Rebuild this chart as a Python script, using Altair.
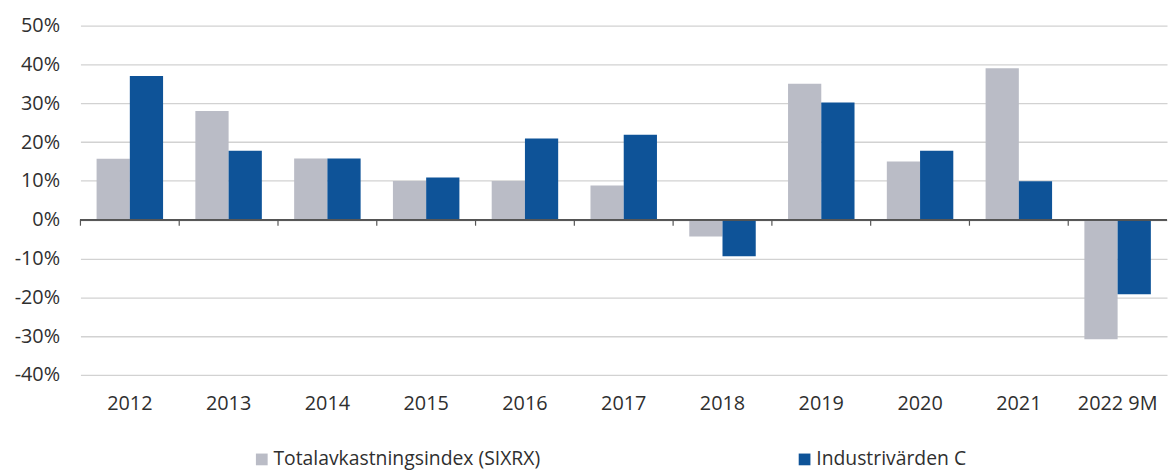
import altair as alt
import pandas as pd

categories = ["2012", "2013", "2014", "2015", "2016", "2017", "2018", "2019", "2020", "2021", "2022 9M"]
sixrx = [15.7, 28.0, 15.8, 10.0, 10.0, 8.8, -4.3, 35.0, 15.0, 39.0, -30.8]
industrivarden = [37.0, 17.8, 15.8, 10.9, 20.9, 21.9, -9.4, 30.2, 17.8, 9.9, -19.2]
series_names = ["Totalavkastningsindex (SIXRX)", "Industrivärden C"]
series_colors = ["#BABCC6", "#0E5398"]
y_ticks = [-40, -30, -20, -10, 0, 10, 20, 30, 40, 50]

rows = []
for c, a, b in zip(categories, sixrx, industrivarden):
    rows.append({"cat": c, "series": series_names[0], "value": a})
    rows.append({"cat": c, "series": series_names[1], "value": b})
df = pd.DataFrame(rows)
cat_df = pd.DataFrame({"cat": categories})

FONT = "Open Sans"
TEXT = "#2f2f2f"

yscale = alt.Scale(domain=[-40, 50], nice=False)

bars = alt.Chart(df).mark_bar().encode(
    x=alt.X(
        "cat:N",
        sort=categories,
        scale=alt.Scale(paddingInner=0.327, paddingOuter=0.1635),
        axis=alt.Axis(
            title=None, domain=False, ticks=False, labelAngle=0,
            labelFontSize=20, labelFont=FONT, labelColor=TEXT, labelPadding=19,
        ),
    ),
    xOffset=alt.XOffset("series:N", sort=series_names, scale=alt.Scale(paddingInner=0, paddingOuter=0)),
    y=alt.Y(
        "value:Q",
        scale=yscale,
        axis=alt.Axis(
            title=None, values=y_ticks, labelExpr="datum.value + '%'",
            domain=False, ticks=False, grid=True, gridColor="#D2D2D2", gridWidth=1.3,
            labelFontSize=20, labelFont=FONT, labelColor=TEXT, labelPadding=21,
            labelOverlap=False, minExtent=73, maxExtent=73,
        ),
    ),
    color=alt.Color(
        "series:N",
        sort=series_names,
        scale=alt.Scale(domain=series_names, range=series_colors),
        legend=alt.Legend(
            title=None, orient="none", direction="horizontal",
            legendX=173, legendY=427,
            symbolType="square", symbolSize=140, symbolStrokeWidth=0, symbolOpacity=1,
            labelFontSize=19.5, labelFont=FONT, labelColor=TEXT, labelOffset=2,
            labelLimit=600, columnPadding=256,
        ),
    ),
)

zero = alt.Chart(cat_df).mark_rule(color="#555555", strokeWidth=1.2).encode(
    y=alt.YDatum(0, axis=None)
)

ticks = alt.Chart(cat_df).mark_rule(color="#555555", strokeWidth=1.2).encode(
    x=alt.X("cat:N", sort=categories, scale=alt.Scale(padding=0), bandPosition=0, axis=None),
    y=alt.YDatum(0, axis=None),
    y2=alt.datum(-1.55),
)

chart = alt.layer(bars, zero, ticks).resolve_scale(x="independent").resolve_axis(
    y="independent"
).properties(
    width=1095, height=352,
    padding={"left": 0, "top": 6, "right": 0, "bottom": 0},
).configure_view(strokeWidth=0)

chart.save("out.html", embed_options={"renderer": "svg", "actions": False})
